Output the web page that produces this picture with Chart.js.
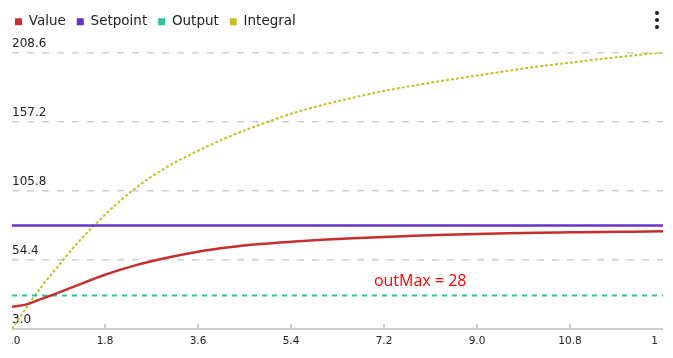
<!DOCTYPE html>
<html>
<head>
<meta charset="utf-8">
<script src="https://cdn.jsdelivr.net/npm/chart.js@4.4.0/dist/chart.umd.min.js"></script>
<style>
  html, body { margin: 0; padding: 0; background: #fff; }
  #wrap { position: relative; width: 673px; height: 358px; }
  .menu { position: absolute; left: 655px; top: 11px; width: 4px; }
  .menu span { display: block; width: 4px; height: 4px; border-radius: 50%; background: #1c1c1c; margin-bottom: 3px; }
</style>
</head>
<body>
<div id="wrap">
  <canvas id="pidChart" width="673" height="358"></canvas>
  <div class="menu"><span></span><span></span><span></span></div>
</div>
<script>
// Tid (s) og seriene lest av grafen
const times = [0, 0.3, 0.6, 0.9, 1.2, 1.8, 2.4, 3.0, 3.6, 4.2, 4.8, 5.4, 6.0, 6.6, 7.2, 7.8, 8.4, 9.0, 9.6, 10.2, 10.8, 11.4, 12.0, 12.6];
const valueData = [19.6, 21.5, 25.8, 30.0, 34.5, 43.3, 50.5, 56.0, 60.5, 63.8, 66.2, 67.9, 69.3, 70.5, 71.5, 72.4, 73.1, 73.7, 74.2, 74.6, 74.9, 75.2, 75.4, 75.6];
const setpointData = [80, 80, 80, 80, 80, 80, 80, 80, 80, 80, 80, 80, 80, 80, 80, 80, 80, 80, 80, 80, 80, 80, 80, 80];
const outputData = [28, 28, 28, 28, 28, 28, 28, 28, 28, 28, 28, 28, 28, 28, 28, 28, 28, 28, 28, 28, 28, 28, 28, 28];
const integralData = [3, 20, 36, 50, 64, 88, 108, 123.5, 135.5, 146, 155, 163, 169.5, 175, 180, 184.2, 188, 191.5, 195, 198.3, 201, 203.8, 206.3, 208.6];

const xTicks = [0, 1.8, 3.6, 5.4, 7.2, 9.0, 10.8, 12.6];
const yTicks = [3.0, 54.4, 105.8, 157.2, 208.6];
const outMax = 28;

const toPoints = arr => times.map((t, i) => ({ x: t, y: arr[i] }));

// klipp kantene slik som i originalen
const clipEdges = {
    id: 'clipEdges',
    beforeDraw(chart) {
        const { ctx, chartArea: a } = chart;
        ctx.save();
        ctx.beginPath();
        ctx.rect(a.left, 0, a.right - a.left, a.bottom + 3);
        ctx.rect(a.left, a.bottom + 3, a.right - a.left - 5, chart.height - a.bottom - 3);
        ctx.clip();
    },
    afterDraw(chart) {
        chart.ctx.restore();
    }
};

// ekstra luft under legenden
const legendSpacing = {
    id: 'legendSpacing',
    beforeLayout(chart) {
        const lg = chart.legend;
        if (lg && !lg._patched) {
            const fit = lg.fit;
            lg.fit = function () { fit.call(this); this.height += 14; };
            lg._patched = true;
        }
    }
};

// små tick-streker som peker opp fra x-aksen
const axisMarks = {
    id: 'axisMarks',
    beforeDatasetsDraw(chart) {
        const { ctx, chartArea: a, scales: { x } } = chart;
        ctx.save();
        ctx.strokeStyle = '#cccccc';
        ctx.lineWidth = 2;
        x.ticks.forEach((t, i) => {
            if (i === 0 || i === x.ticks.length - 1) return;
            const px = Math.round(x.getPixelForValue(t.value));
            ctx.beginPath();
            ctx.moveTo(px, a.bottom - 5);
            ctx.lineTo(px, a.bottom);
            ctx.stroke();
        });
        ctx.restore();
    }
};

const outMaxLabel = {
    id: 'outMaxLabel',
    afterDatasetsDraw(chart) {
        const { ctx, scales: { x, y } } = chart;
        ctx.save();
        ctx.font = '16px "Open Sans"';
        ctx.fillStyle = '#ff0000';
        ctx.textAlign = 'center';
        ctx.textBaseline = 'alphabetic';
        ctx.fillText('outMax = ' + outMax, x.getPixelForValue(7.9), y.getPixelForValue(outMax) - 9);
        ctx.restore();
    }
};

const ctx = document.getElementById('pidChart').getContext('2d');
new Chart(ctx, {
    type: 'line',
    data: {
        datasets: [
            { label: 'Value', data: toPoints(valueData), borderColor: '#c62f2f', backgroundColor: '#c62f2f', borderWidth: 2.5 },
            { label: 'Setpoint', data: toPoints(setpointData), borderColor: '#6633cc', backgroundColor: '#6633cc', borderWidth: 2.5 },
            { label: 'Output', data: toPoints(outputData), borderColor: '#2ec49a', backgroundColor: '#2ec49a', borderWidth: 2, borderDash: [5, 5] },
            { label: 'Integral', data: toPoints(integralData), borderColor: '#c5bf2c', backgroundColor: '#c5bf2c', borderWidth: 2, borderDash: [3, 2] }
        ]
    },
    options: {
        responsive: false,
        animation: false,
        events: [],
        elements: {
            point: { radius: 0 },
            line: { cubicInterpolationMode: 'monotone', fill: false }
        },
        layout: { padding: { left: 4, right: 10, top: 4, bottom: 0 } },
        plugins: {
            tooltip: { enabled: false },
            legend: {
                position: 'top',
                align: 'start',
                labels: {
                    boxWidth: 7,
                    boxHeight: 7,
                    padding: 11,
                    color: '#222222',
                    font: { family: 'DejaVu Sans', size: 13.5 },
                    generateLabels(chart) {
                        return Chart.defaults.plugins.legend.labels.generateLabels(chart).map(l =>
                            Object.assign(l, { lineWidth: 0, lineDash: [], fillStyle: l.strokeStyle }));
                    }
                }
            }
        },
        scales: {
            x: {
                type: 'linear',
                min: 0,
                max: 12.6,
                afterBuildTicks: s => { s.ticks = xTicks.map(v => ({ value: v })); },
                afterFit: s => { s.height = 29; s.paddingLeft = 0; s.paddingRight = 0; },
                grid: { display: false, drawTicks: false },
                border: { display: true, color: '#cccccc', width: 2 },
                ticks: {
                    padding: 6,
                    maxRotation: 0,
                    autoSkip: false,
                    color: '#222222',
                    font: { family: 'DejaVu Sans', size: 10.5 },
                    callback: v => Number(v).toFixed(1)
                }
            },
            y: {
                min: 3,
                max: 208.6,
                afterBuildTicks: s => { s.ticks = yTicks.map(v => ({ value: v })); },
                afterFit: s => { s.width = 8; },
                grid: { color: '#cfcfcf', lineWidth: 1.5, drawTicks: false },
                border: { display: false, dash: [7, 8] },
                ticks: {
                    mirror: true,
                    padding: 0,
                    labelOffset: -9,
                    autoSkip: false,
                    color: '#222222',
                    font: { family: 'DejaVu Sans', size: 12 },
                    callback: v => Number(v).toFixed(1)
                }
            }
        }
    },
    plugins: [clipEdges, legendSpacing, axisMarks, outMaxLabel]
});
</script>
</body>
</html>
